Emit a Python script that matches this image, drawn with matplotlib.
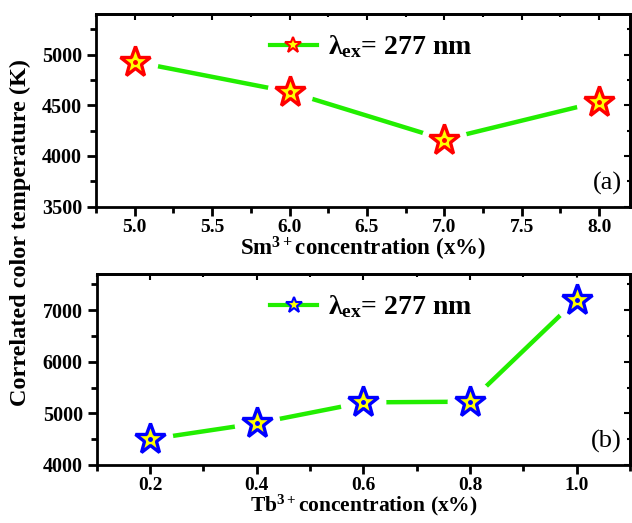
import matplotlib.pyplot as plt
from matplotlib.ticker import MultipleLocator

plt.rcParams['font.family'] = ['Liberation Serif', 'DejaVu Serif']
plt.rcParams['font.weight'] = 'bold'
plt.rcParams['mathtext.fontset'] = 'custom'
plt.rcParams['mathtext.rm'] = 'Liberation Serif:bold'
plt.rcParams['mathtext.bf'] = 'Liberation Serif:bold'
plt.rcParams['mathtext.it'] = 'Liberation Serif:bold'

# data
sm_conc = [5.0, 6.0, 7.0, 8.0]
sm_cct = [4930, 4632, 4162, 4535]
tb_conc = [0.2, 0.4, 0.6, 0.8, 1.0]
tb_cct = [4497, 4806, 5213, 5226, 7206]

green = '#22ee00'
fig = plt.figure(figsize=(6.32, 5.23), dpi=100)
ax1 = fig.add_axes([0.152, 0.605, 0.845, 0.368])
ax2 = fig.add_axes([0.153, 0.111, 0.844, 0.365])


def draw(ax, x, y, edge, xstep, ystep):
    ax.plot(x, y, color=green, lw=3.2, zorder=1)
    # white circle behind stars gives the gap in the line
    ax.plot(x, y, ls='none', marker='o', ms=33, mfc='white', mec='none', zorder=2)
    ax.plot(x, y, ls='none', marker='*', ms=23, mfc='yellow', mec=edge, mew=2.4, zorder=3)
    ax.plot(x, y, ls='none', marker='o', ms=2.5, mfc=edge, mec=edge, zorder=4)
    h, = ax.plot([], [], color=green, lw=3, marker='*', ms=12, mfc='yellow', mec=edge, mew=1.5)
    ax.legend([h], [r'$\mathbf{\lambda}_{\mathbf{ex}}$= 277 nm'], loc='upper center',
              bbox_to_anchor=(0.515, 1.03), frameon=False, handlelength=1.7,
              handletextpad=0.4, prop={'size': 20, 'weight': 'bold'})
    for s in ax.spines.values():
        s.set_linewidth(2)
    ax.xaxis.set_major_locator(MultipleLocator(xstep))
    ax.xaxis.set_minor_locator(MultipleLocator(xstep / 2))
    ax.yaxis.set_major_locator(MultipleLocator(ystep))
    ax.yaxis.set_minor_locator(MultipleLocator(ystep / 2))
    ax.tick_params(which='both', direction='out', width=2, labelsize=14.5)
    ax.tick_params(axis='x', labelsize=14, pad=2.5)
    ax.tick_params(which='major', length=6.5)
    ax.tick_params(which='minor', length=4)
    # inward ticks on top and right spines
    top = ax.secondary_xaxis('top')
    top.xaxis.set_major_locator(MultipleLocator(xstep))
    top.xaxis.set_minor_locator(MultipleLocator(xstep / 2))
    top.tick_params(which='both', direction='in', width=1.5, labeltop=False)
    top.tick_params(which='major', length=4)
    top.tick_params(which='minor', length=2.5)
    top.spines['top'].set_linewidth(2)
    right = ax.secondary_yaxis('right')
    right.yaxis.set_major_locator(MultipleLocator(ystep))
    right.yaxis.set_minor_locator(MultipleLocator(ystep / 2))
    right.tick_params(which='both', direction='in', width=1.5, labelright=False)
    right.tick_params(which='major', length=4)
    right.tick_params(which='minor', length=2.5)
    right.spines['right'].set_linewidth(2)
    for t in ax.get_xticklabels() + ax.get_yticklabels():
        t.set_fontweight('bold')


draw(ax1, sm_conc, sm_cct, 'red', 0.5, 500)
ax1.set_xlim(4.75, 8.2)
ax1.set_ylim(3500, 5400)
ax1.set_xlabel(r'Sm$^{3+}$concentration (x%)', fontsize=16.5, fontweight='bold', labelpad=-1)
ax1.text(0.985, 0.06, '(a)', transform=ax1.transAxes, ha='right', va='bottom',
         fontsize=19, fontweight='normal')

draw(ax2, tb_conc, tb_cct, 'blue', 0.2, 1000)
ax2.set_xlim(0.1, 1.1)
ax2.set_ylim(4000, 7700)
ax2.set_xlabel(r'Tb$^{3+}$concentration (x%)', fontsize=15.5, fontweight='bold', labelpad=-1)
ax2.text(0.985, 0.06, '(b)', transform=ax2.transAxes, ha='right', va='bottom',
         fontsize=19, fontweight='normal')

fig.text(0.033, 0.555, 'Correlated color temperature (K)', rotation=90, ha='center',
         va='center', fontsize=17.5, fontweight='bold')

fig.savefig('out.png', dpi=100)
